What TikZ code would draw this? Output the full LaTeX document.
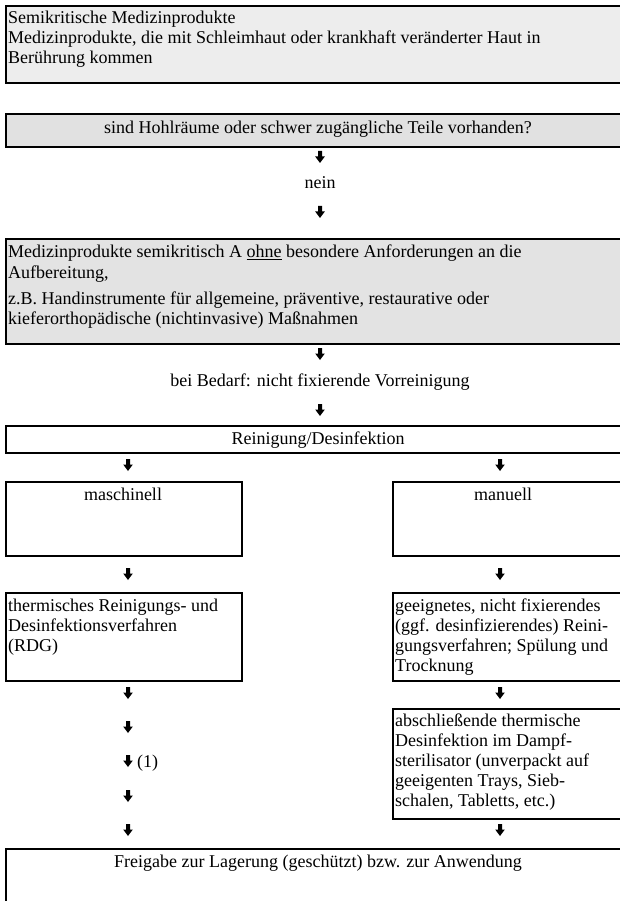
\documentclass[tikz,border=0pt]{standalone}
\usepackage{fontspec}
\setmainfont{Liberation Serif}
\definecolor{gA}{HTML}{EDEDED}
\definecolor{gB}{HTML}{E1E1E1}
\definecolor{gC}{HTML}{E3E3E3}
\tikzset{
  boxshape/.style={draw=black, line width=2pt, anchor=north west, inner sep=0pt, rectangle},
  grayshape/.style={boxshape, line width=2.4pt},
  txt/.style={font=\fontsize{18pt}{20pt}\selectfont, inner sep=0pt},
  txtl/.style={txt, anchor=base west},
  txtc/.style={txt, anchor=base},
  blockarrow/.style={rectangle, draw=none, inner sep=0pt, minimum width=10pt, minimum height=12pt,
     path picture={\fill[black]
        ([shift={(-2pt,6pt)}]path picture bounding box.center) --
        ([shift={(2pt,6pt)}]path picture bounding box.center) --
        ([shift={(2pt,0.5pt)}]path picture bounding box.center) --
        ([shift={(4.8pt,0.5pt)}]path picture bounding box.center) --
        ([shift={(0pt,-6pt)}]path picture bounding box.center) --
        ([shift={(-4.8pt,0.5pt)}]path picture bounding box.center) --
        ([shift={(-2pt,0.5pt)}]path picture bounding box.center) -- cycle;}}
}
\begin{document}
\begin{tikzpicture}[x=1pt,y=-1pt]
\clip (0,0) rectangle (620,901);
\fill[white] (0,0) rectangle (620,901);
% box 1
\node[grayshape, fill=gA, minimum width=630pt, minimum height=77pt] (b1) at (5,5) {};
\node[txtl] (t1a) at (8,24) {Semikritische Medizinprodukte};
\node[txtl] (t1b) at (8,44) {Medizinprodukte, die mit Schleimhaut oder krankhaft veränderter Haut in};
\node[txtl] (t1c) at (8,64) {Berührung kommen};
% box 2
\node[grayshape, fill=gB, minimum width=630pt, minimum height=33pt] (b2) at (5,113) {};
\node[txtc] (t2) at (318,134) {sind Hohlräume oder schwer zugängliche Teile vorhanden?};
\node[blockarrow] (a1) at (320,157) {};
\node[txtc] (nein) at (320,189) {nein};
\node[blockarrow] (a2) at (320,212) {};
% box 3
\node[grayshape, fill=gC, minimum width=630pt, minimum height=105pt] (b3) at (5,238) {};
\node[txtl] (t3a) at (8,258) {Medizinprodukte semikritisch A \underline{ohne} besondere Anforderungen an die};
\node[txtl] (t3b) at (8,278) {Aufbereitung,};
\node[txtl] (t3c) at (8,304) {z.B. Handinstrumente für allgemeine, präventive, restaurative oder};
\node[txtl] (t3d) at (8,324) {kieferorthopädische (nichtinvasive) Maßnahmen};
\node[blockarrow] (a3) at (320,354) {};
\node[txtc] (bedarf) at (320,386) {bei Bedarf: nicht fixierende Vorreinigung};
\node[blockarrow] (a4) at (320,410) {};
% Reinigung
\node[boxshape, minimum width=630pt, minimum height=27pt] (b4) at (5,425) {};
\node[txtc] (t4) at (318,444) {Reinigung/Desinfektion};
\node[blockarrow] (a5l) at (128,465) {};
\node[blockarrow] (a5r) at (500,465) {};
% maschinell / manuell
\node[boxshape, minimum width=236pt, minimum height=74pt] (b5l) at (5,481) {};
\node[txtc] (t5l) at (123,500) {maschinell};
\node[boxshape, minimum width=243pt, minimum height=74pt] (b5r) at (392,481) {};
\node[txtc] (t5r) at (503,500) {manuell};
\node[blockarrow] (a6l) at (128,574) {};
\node[blockarrow] (a6r) at (500,574) {};
% second row
\node[boxshape, minimum width=236pt, minimum height=88pt] (b6l) at (5,592) {};
\node[txtl] (t6la) at (8,611) {thermisches Reinigungs- und};
\node[txtl] (t6lb) at (8,631) {Desinfektionsverfahren};
\node[txtl] (t6lc) at (8,651) {(RDG)};
\node[boxshape, minimum width=243pt, minimum height=88pt] (b6r) at (392,592) {};
\node[txtl] (t6ra) at (395,611) {geeignetes, nicht fixierendes};
\node[txtl] (t6rb) at (395,631) {(ggf. desinfizierendes) Reini-};
\node[txtl] (t6rc) at (395,651) {gungsverfahren; Spülung und};
\node[txtl] (t6rd) at (395,671) {Trocknung};
% left chain of arrows
\node[blockarrow] (l1) at (128,693) {};
\node[blockarrow] (l2) at (128,727) {};
\node[blockarrow] (l3) at (128,761) {};
\node[txtl] (one) at (137,767) {(1)};
\node[blockarrow] (l4) at (128,796) {};
\node[blockarrow] (l5) at (128,830) {};
% right third box
\node[blockarrow] (a7r) at (500,693) {};
\node[boxshape, minimum width=243pt, minimum height=110pt] (b7r) at (392,708) {};
\node[txtl] (t7a) at (395,726) {abschließende thermische};
\node[txtl] (t7b) at (395,746) {Desinfektion im Dampf-};
\node[txtl] (t7c) at (395,766) {sterilisator (unverpackt auf};
\node[txtl] (t7d) at (395,786) {geeigenten Trays, Sieb-};
\node[txtl] (t7e) at (395,806) {schalen, Tabletts, etc.)};
\node[blockarrow] (a8r) at (500,830) {};
% final
\node[boxshape, minimum width=630pt, minimum height=62pt] (b8) at (5,848) {};
\node[txtc] (t8) at (318,867) {Freigabe zur Lagerung (geschützt) bzw. zur Anwendung};
\end{tikzpicture}
\end{document}
